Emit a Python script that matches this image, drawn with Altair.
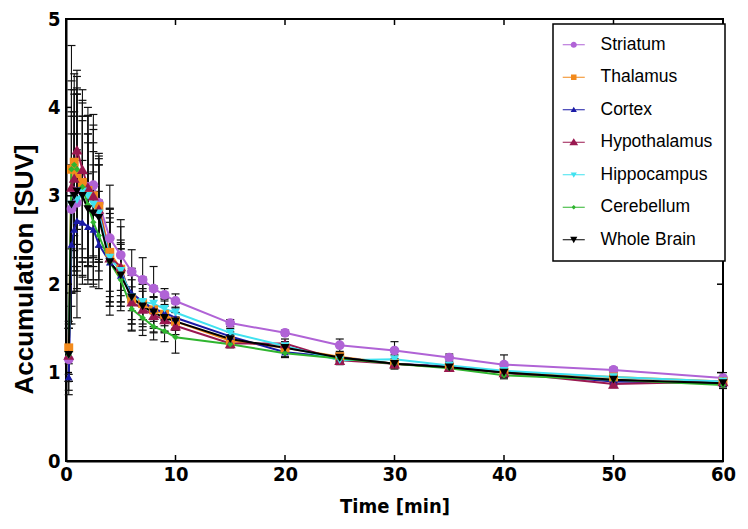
import altair as alt
import pandas as pd

series = ["Striatum", "Thalamus", "Cortex", "Hypothalamus", "Hippocampus", "Cerebellum", "Whole Brain"]
colors = ["#b063d6", "#f28a1c", "#1a1aa6", "#9a1850", "#40e2f0", "#2fb52f", "#000000"]

times = [0.25, 0.5, 0.75, 1.0, 1.5, 2.0, 2.5, 3.0, 4, 5, 6, 7, 8, 9, 10, 15, 20, 25, 30, 35, 40, 50, 60]

means = {
    "Striatum":     [1.15, 2.85, 3.05, 2.92, 3.08, 3.10, 3.12, 2.92, 2.52, 2.33, 2.14, 2.05, 1.95, 1.88, 1.81, 1.56, 1.45, 1.31, 1.25, 1.17, 1.09, 1.03, 0.94],
    "Thalamus":     [1.28, 3.30, 3.38, 3.25, 3.15, 3.06, 3.00, 2.88, 2.36, 2.17, 1.83, 1.78, 1.71, 1.66, 1.58, 1.36, 1.28, 1.18, 1.10, 1.06, 1.00, 0.95, 0.90],
    "Cortex":       [0.95, 2.45, 2.62, 2.72, 2.70, 2.65, 2.62, 2.45, 2.25, 2.10, 1.90, 1.80, 1.72, 1.68, 1.62, 1.41, 1.23, 1.17, 1.10, 1.07, 1.00, 0.90, 0.88],
    "Hypothalamus": [1.20, 3.10, 3.20, 3.52, 3.30, 3.10, 3.00, 2.85, 2.30, 2.20, 1.80, 1.72, 1.65, 1.60, 1.53, 1.33, 1.33, 1.14, 1.10, 1.06, 1.00, 0.87, 0.90],
    "Hippocampus":  [1.20, 2.90, 3.00, 2.95, 3.05, 3.00, 2.90, 2.80, 2.30, 2.15, 1.85, 1.80, 1.78, 1.72, 1.68, 1.45, 1.30, 1.14, 1.15, 1.08, 1.02, 0.95, 0.90],
    "Cerebellum":   [1.20, 3.30, 3.35, 3.30, 3.10, 2.90, 2.70, 2.55, 2.25, 2.05, 1.72, 1.62, 1.52, 1.47, 1.40, 1.32, 1.22, 1.16, 1.10, 1.05, 0.97, 0.92, 0.86],
    "Whole Brain":  [1.20, 2.90, 3.00, 3.05, 3.00, 2.85, 2.80, 2.75, 2.25, 2.10, 1.85, 1.75, 1.68, 1.62, 1.58, 1.38, 1.28, 1.17, 1.10, 1.06, 1.00, 0.92, 0.88],
}

sds = {
    "Striatum":     [0.40, 1.10, 0.90, 1.30, 1.00, 0.90, 0.80, 0.50, 0.60, 0.40, 0.25, 0.25, 0.25, 0.07, 0.08, 0.04, 0.03, 0.07, 0.10, 0.04, 0.11, 0.03, 0.06],
    "Thalamus":     [0.30, 1.40, 1.00, 1.10, 0.90, 0.85, 0.80, 0.60, 0.50, 0.30, 0.35, 0.30, 0.25, 0.20, 0.10, 0.04, 0.04, 0.04, 0.04, 0.03, 0.04, 0.03, 0.04],
    "Cortex":       [0.15, 0.90, 0.70, 0.80, 0.70, 0.60, 0.65, 0.50, 0.45, 0.30, 0.20, 0.20, 0.20, 0.15, 0.12, 0.05, 0.06, 0.05, 0.06, 0.04, 0.05, 0.04, 0.04],
    "Hypothalamus": [0.30, 1.20, 1.00, 0.90, 0.90, 0.80, 0.75, 0.60, 0.55, 0.45, 0.25, 0.20, 0.20, 0.15, 0.10, 0.04, 0.05, 0.05, 0.05, 0.04, 0.05, 0.04, 0.05],
    "Hippocampus":  [0.30, 0.80, 0.70, 0.75, 0.80, 0.70, 0.60, 0.55, 0.50, 0.35, 0.30, 0.20, 0.20, 0.12, 0.10, 0.05, 0.05, 0.04, 0.05, 0.03, 0.04, 0.03, 0.04],
    "Cerebellum":   [0.30, 0.90, 0.80, 0.85, 0.80, 0.70, 0.65, 0.50, 0.60, 0.35, 0.25, 0.20, 0.15, 0.12, 0.18, 0.04, 0.04, 0.04, 0.04, 0.03, 0.04, 0.03, 0.04],
    "Whole Brain":  [0.30, 1.00, 0.90, 1.10, 0.90, 0.85, 0.80, 0.60, 0.50, 0.35, 0.25, 0.20, 0.18, 0.15, 0.10, 0.05, 0.05, 0.04, 0.04, 0.03, 0.05, 0.04, 0.04],
}

point_shapes = ["circle", "square", "triangle-up", "triangle-up", "triangle-down", "diamond", "triangle-down"]
stub = "M-1.6,-0.07H1.6V0.07H-1.6Z"
legend_shapes = [
    stub + "M-0.45,0A0.45,0.45 0 1,1 0.45,0A0.45,0.45 0 1,1 -0.45,0Z",
    stub + "M-0.4,-0.4H0.4V0.4H-0.4Z",
    stub + "M0,-0.42L0.45,0.34L-0.45,0.34Z",
    stub + "M0,-0.58L0.64,0.44L-0.64,0.44Z",
    stub + "M-0.45,-0.34L0.45,-0.34L0,0.42Z",
    stub + "M0,-0.34L0.34,0L0,0.34L-0.34,0Z",
    stub + "M-0.52,-0.42L0.52,-0.42L0,0.52Z",
]
point_sizes = [95, 80, 60, 120, 80, 40, 80]

x_ticks_inner = [10, 20, 30, 40, 50]
y_ticks_inner = [1, 2, 3, 4]

rows = []
for s in series:
    for t, m, e in zip(times, means[s], sds[s]):
        rows.append({"time": t, "value": m, "lo": m - e, "hi": m + e, "series": s})
df = pd.DataFrame(rows)
size_map = dict(zip(series, point_sizes))
df["psize"] = df["series"].map(size_map)

W, H = 657, 442
NARROW = "Liberation Sans Narrow, DejaVu Sans Condensed, Arial Narrow, sans-serif"

xs = alt.Scale(domain=[0, 60], nice=False, zero=False)
ys = alt.Scale(domain=[0, 5], nice=False)
cscale = alt.Scale(domain=series, range=colors)

base = alt.Chart(df)

x_enc = alt.X("time:Q", scale=xs,
              axis=alt.Axis(values=[0, 10, 20, 30, 40, 50, 60], title="Time [min]", format="d",
                            labelFlush=False))
y_enc = alt.Y("value:Q", scale=ys,
              axis=alt.Axis(values=[0, 1, 2, 3, 4, 5], title="Accumulation [SUV]", format="d",
                            labelFlush=False, titleY=250))

err_rule = base.mark_rule(color="#111111", strokeWidth=1.1).encode(
    x=x_enc, y=alt.Y("lo:Q", scale=ys), y2="hi:Q")
cap_lo = base.mark_point(shape="M-1,0H1", size=64, filled=False, color="#111111",
                         strokeWidth=1.2, opacity=1).encode(x="time:Q", y=alt.Y("lo:Q", scale=ys))
cap_hi = base.mark_point(shape="M-1,0H1", size=64, filled=False, color="#111111",
                         strokeWidth=1.2, opacity=1).encode(x="time:Q", y=alt.Y("hi:Q", scale=ys))

lines = base.mark_line(strokeWidth=2).encode(
    x=x_enc, y=y_enc,
    color=alt.Color("series:N", scale=cscale, legend=None),
    detail="series:N", order="time:Q")

points = base.mark_point(filled=True, opacity=1).encode(
    x="time:Q", y="value:Q",
    color=alt.Color("series:N", scale=cscale, legend=None),
    shape=alt.Shape("series:N", scale=alt.Scale(domain=series, range=point_shapes), legend=None),
    size=alt.Size("psize:Q", scale=None, legend=None))

legend_layer = base.transform_filter("false").mark_point(filled=True, opacity=1, size=190).encode(
    x="time:Q", y="value:Q",
    color=alt.Color("series:N", scale=alt.Scale(domain=series, range=colors),
                    legend=alt.Legend(title=None, orient="none", legendX=487, legendY=5)),
    shape=alt.Shape("series:N", scale=alt.Scale(domain=series, range=legend_shapes),
                    legend=alt.Legend(title=None, orient="none", legendX=487, legendY=5)))

tick_df_x = pd.DataFrame({"tx": x_ticks_inner})
tick_df_y = pd.DataFrame({"ty": y_ticks_inner})
tb = alt.Chart(tick_df_x).mark_rule(color="black", strokeWidth=1.5).encode(
    x=alt.X("tx:Q", scale=xs), y=alt.value(H), y2=alt.value(H - 6))
tt = alt.Chart(tick_df_x).mark_rule(color="black", strokeWidth=1.5).encode(
    x=alt.X("tx:Q", scale=xs), y=alt.value(0), y2=alt.value(6))
tl = alt.Chart(tick_df_y).mark_rule(color="black", strokeWidth=1.5).encode(
    y=alt.Y("ty:Q", scale=ys), x=alt.value(0), x2=alt.value(6))
tr = alt.Chart(tick_df_y).mark_rule(color="black", strokeWidth=1.5).encode(
    y=alt.Y("ty:Q", scale=ys), x=alt.value(W), x2=alt.value(W - 6))

chart = alt.layer(err_rule, cap_lo, cap_hi, lines, points, legend_layer, tb, tt, tl, tr).resolve_scale(
    color="independent", shape="independent"
).properties(
    width=W, height=H,
    autosize=alt.AutoSizeParams(type="none"),
    padding={"left": 58, "top": 11, "right": 17, "bottom": 60},
).configure_view(
    stroke="black", strokeWidth=2
).configure_axis(
    grid=False, domainColor="black", domainWidth=2, tickSize=0,
    labelFont=NARROW, labelFontWeight="bold", labelFontSize=20, labelColor="black",
    titleFont="Liberation Sans, Arial, sans-serif", titleFontWeight="bold", titleColor="black",
).configure_axisX(
    labelPadding=3, titleFont=NARROW, titleFontSize=20, titlePadding=12,
).configure_axisY(
    labelPadding=6, titleFontSize=26, titlePadding=10,
).configure_legend(
    strokeColor="black", strokeWidth=1.5, fillColor="white", padding=12,
    labelFont="Liberation Sans, Arial, sans-serif", labelFontSize=17.5, labelColor="black",
    symbolSize=190, symbolStrokeWidth=0, symbolOpacity=1, rowPadding=13.5, labelOffset=18,
    labelLimit=300,
)

chart.save("out.html", embed_options={"renderer": "svg", "actions": False})
